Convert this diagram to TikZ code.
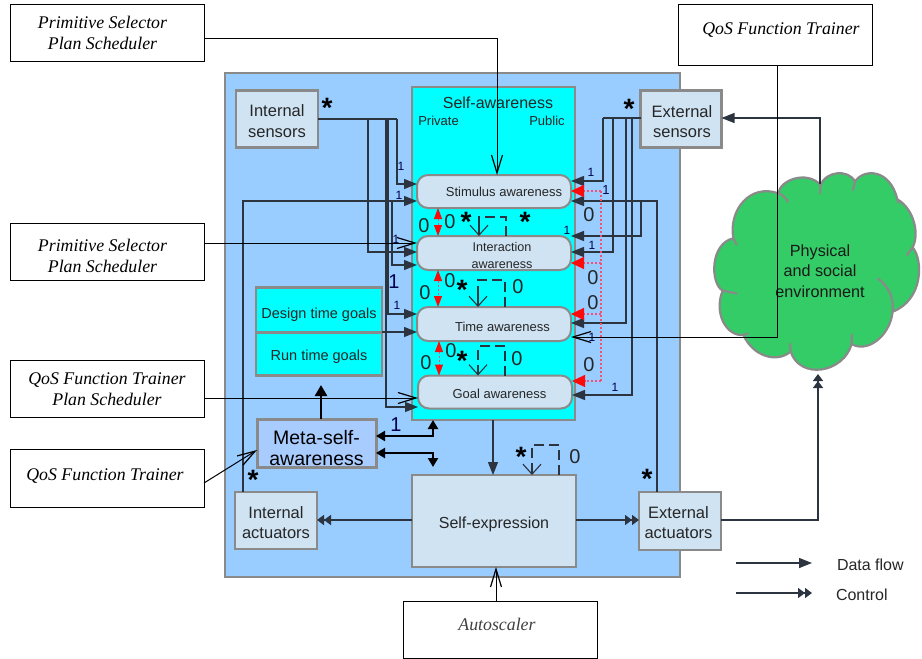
\documentclass[tikz,border=0pt]{standalone}
\usepackage{fontspec}
\setmainfont{Liberation Sans}
\newfontfamily\serifit{Liberation Serif}
\usetikzlibrary{arrows.meta,calc}
\definecolor{panel}{HTML}{99CCFF}
\definecolor{paleb}{HTML}{CFE3F3}
\definecolor{metab}{HTML}{A9CCFF}
\definecolor{edge}{HTML}{8A8A8A}
\definecolor{wirec}{HTML}{2C3440}
\definecolor{cloudg}{HTML}{33CC66}
\definecolor{pcyan}{HTML}{00FFFF}
\definecolor{pred}{HTML}{FF0A0A}
\definecolor{pink}{HTML}{F0507A}
\newcommand{\tp}[1]{\rule{0pt}{#1pt}}
\tikzset{
  px/.style={font=\fontsize{#1}{20.5}\selectfont},
  boxn/.style={draw=edge,line width=2.5pt,fill=paleb,inner sep=0pt,outer sep=0pt,align=center,text=black!85},
  awar/.style={boxn,rounded corners=11pt,line width=2pt,font=\fontsize{13}{17}\selectfont},
  whitebox/.style={draw=black,line width=1pt,fill=white,inner sep=0pt,outer sep=0pt,align=center,minimum width=194pt,
     font=\serifit\itshape\fontsize{17.8}{21}\selectfont},
  wire/.style={draw=wirec,line width=1.4pt},
  thinl/.style={draw=black,line width=1pt},
  da/.style={wire,-{Triangle[length=13pt,width=10pt]}},
  ca/.style={wire,-{Triangle[length=7pt,width=10pt]Triangle[length=7pt,width=10pt]}},
  oa/.style={thinl,-{Straight Barb[length=18pt,width=11pt,line width=1.2pt]}},
  loopl/.style={draw=wirec,line width=1.1pt,dash pattern=on 10pt off 5pt},
  loopt/.style={draw=wirec,line width=1.1pt,-{Straight Barb[length=10pt,width=18pt]}},
  reda/.style={draw=pink,line width=1pt,dash pattern=on 2pt off 2pt,{Triangle[length=11pt,width=8pt,color=pred]}-{Triangle[length=11pt,width=8pt,color=pred]}},
  redd/.style={draw=pink,line width=1.1pt,dash pattern=on 2pt off 2pt,-{Triangle[length=13pt,width=12pt,color=pred]}},
  thick3/.style={draw=black,line width=2.6pt},
  bi/.style={thick3,{Triangle[length=9pt,width=10pt]}-{Triangle[length=9pt,width=10pt]}},
  lab/.style={inner sep=0pt,outer sep=0pt,text=black!85},
  st/.style={inner sep=0pt,outer sep=0pt,font=\bfseries\fontsize{28}{28}\selectfont,text=black},
}
\begin{document}
\begin{tikzpicture}[x=1pt,y=-1pt]
\useasboundingbox (0,0) rectangle (922,659);

% panels
\node[boxn,fill=panel,minimum width=455pt,minimum height=504pt] (panelbox) at (452.5,325) {};
\node[boxn,fill=pcyan,minimum width=163pt,minimum height=333pt] (selfaw) at (493.5,253.5) {};
\node[lab,px=16] (selftitle) at (498,103) {Self-awareness};
\node[lab,px=13] (priv) at (438.5,121) {Private};
\node[lab,px=13] (publ) at (547,121) {Public};

% boxes
\node[boxn,minimum width=82pt,minimum height=57pt,px=16.5] (isens) at (277,119) {\tp{16}Internal\\sensors};
\node[boxn,minimum width=81pt,minimum height=57pt,px=16.5] (esens) at (681,119) {\tp{17.5}\hspace*{2pt}External\\\hspace*{2pt}sensors};
\node[awar,minimum width=154pt,minimum height=33pt] (stim) at (494,191.5) {\tp{11}\hspace*{20pt}Stimulus awareness};
\node[awar,minimum width=154pt,minimum height=34pt,font=\fontsize{12.6}{17}\selectfont] (inter) at (494,253) {\tp{14}\hspace*{16pt}Interaction\\\hspace*{16pt}awareness};
\node[awar,minimum width=154pt,minimum height=34pt] (timea) at (494,324) {\tp{16}\hspace*{17pt}Time awareness};
\node[awar,minimum width=154pt,minimum height=33pt] (goal) at (495,392) {\tp{14}\hspace*{9pt}Goal awareness};
\node[boxn,fill=pcyan,minimum width=126pt,minimum height=45pt,px=14.5] (design) at (319,310) {\tp{20}Design time goals};
\node[boxn,fill=pcyan,minimum width=126pt,minimum height=43pt,px=14.5] (runt) at (319,354) {\tp{16.5}Run time goals};
\node[boxn,fill=metab,line width=3pt,minimum width=119pt,minimum height=48pt,font=\fontsize{19.5}{21}\selectfont,text=black] (meta) at (316.5,443) {\tp{24}Meta-self-\\awareness};
\node[boxn,minimum width=82pt,minimum height=57pt,px=16.5] (iact) at (276,520.5) {\tp{16}Internal\\actuators};
\node[boxn,minimum width=164pt,minimum height=92pt,px=16] (expr) at (494,521) {\tp{19}Self-expression};
\node[boxn,minimum width=82pt,minimum height=58pt,px=16.5] (eact) at (680,521) {\tp{15}\hspace*{-3pt}External\\\hspace*{-3pt}actuators};

% cloud
\begin{scope}[shift={(700,140)},x=.3333pt,y=-.3333pt]
\draw[draw=edge,line width=2.2pt,fill=cloudg]
 (100,295) .. controls (85,210) and (150,130) .. (235,160)
 .. controls (240,120) and (320,90) .. (362,135)
 .. controls (375,95) and (445,85) .. (465,125)
 .. controls (490,85) and (570,85) .. (592,178)
 .. controls (640,205) and (660,280) .. (638,322)
 .. controls (670,360) and (670,480) .. (578,515)
 .. controls (570,590) and (500,640) .. (455,612)
 .. controls (430,700) and (300,720) .. (272,635)
 .. controls (230,670) and (160,650) .. (130,585)
 .. controls (80,590) and (40,520) .. (68,452)
 .. controls (30,430) and (30,310) .. (100,295) -- cycle;
\draw[draw=edge,line width=2.2pt]
 (235,160) .. controls (250,165) and (258,175) .. (265,187)
 (362,135) -- (360,162)
 (465,125) -- (459,152)
 (592,178) -- (596,190)
 (638,322) -- (620,346)
 (578,515) .. controls (582,470) and (565,440) .. (533,415)
 (455,612) -- (455,582)
 (272,635) -- (270,610)
 (130,585) -- (146,580)
 (68,452) -- (112,461)
 (100,295) -- (110,315);
\end{scope}
\node[lab,align=center,font=\fontsize{16.2}{20.5}\selectfont,text=black!90] (cloudtxt) at (820,271) {Physical\\and social\\environment};
\coordinate (cloudtop) at (820,184);
\coordinate (cloudbot) at (818,374);

% white annotation boxes
\node[whitebox,minimum height=57pt] (ps1) at (107,32.5) {Primitive Selector\hspace*{9pt}\\Plan Scheduler\hspace*{9pt}};
\node[whitebox,minimum height=57pt] (ps2) at (107,252) {\tp{20}Primitive Selector\hspace*{9pt}\\Plan Scheduler\hspace*{9pt}};
\node[whitebox,minimum height=57pt] (qp) at (107,389) {QoS Function Trainer\\Plan Scheduler};
\node[whitebox,minimum height=58pt] (qf) at (107,478) {\raisebox{7pt}{QoS Function Trainer}\hspace*{4pt}};
\node[whitebox,minimum height=61pt] (qt) at (775,34.5) {\hspace*{12pt}\raisebox{11pt}{QoS Function Trainer}};
\node[whitebox,minimum height=57pt,text=black!75] (auto) at (500,629.5) {\raisebox{10pt}{Autoscaler}\hspace*{6pt}};

% internal sensor wires
\draw[wire] (isens.east |- 0,119) -- (397,119);
\draw[da] (397,119) -- (397,184) -- (stim.west |- 0,184);
\draw[da] (368,119) -- (368,252) -- (inter.west |- 0,252);
\draw[da] (388,119) -- (388,314) -- (timea.west |- 0,314);
\draw[da] (386,119) -- (386,407) -- (goal.west |- 0,407);
% internal actuator wires
\draw[da] (iact.north -| 243,0) -- (243,201) -- (stim.west |- 0,201);
\draw[da] (392,201) -- (392,265) -- (inter.west |- 0,265);
\draw[da] (design.east |- 0,332) -- (timea.west |- 0,332);
% external sensor wires
\draw[wire] (esens.west |- 0,118) -- (603,118);
\draw[da] (603,118) -- (603,181) -- (stim.east |- 0,181);
\draw[da] (613,118) -- (613,252) -- (inter.east |- 0,252);
\draw[da] (626,118) -- (626,323) -- (timea.east |- 0,323);
\draw[da] (632,118) -- (632,395) -- (goal.east |- 0,395);
% external actuator wires
\draw[da] (eact.north -| 657,0) -- (657,201) -- (stim.east |- 0,201);
\draw[da] (641,201) -- (641,236) -- (inter.east |- 0,236);
% red feedback
\draw[draw=pink,line width=1.1pt,dash pattern=on 2pt off 2pt] (601,191) -- (601,381);
\draw[redd] (601,191) -- (stim.east |- 0,191);
\draw[redd] (601,263) -- (inter.east |- 0,263);
\draw[redd] (601,314) -- (timea.east |- 0,314);
\draw[redd] (601,381) -- (goal.east |- 0,381);
\draw[reda] (stim.south -| 438,0) -- (inter.north -| 438,0);
\draw[reda] (inter.south -| 438,0) -- (timea.north -| 438,0);
\draw[reda] (timea.south -| 439,0) -- (goal.north -| 439,0);

% self loops
\draw[loopl] (inter.north -| 506,0) -- (506,217) -- (479,217) -- (479,226);
\draw[loopt] (479,226) -- (inter.north -| 479,0);
\draw[loopl] (timea.north -| 505,0) -- (505,280) -- (478,280) -- (478,296);
\draw[loopt] (478,296) -- (timea.north -| 478,0);
\draw[loopl] (goal.north -| 505,0) -- (505,346) -- (478,346) -- (478,365);
\draw[loopt] (478,365) -- (goal.north -| 478,0);
\draw[loopl] (expr.north -| 559,0) -- (559,445) -- (532,445) -- (532,464);
\draw[loopt] (532,464) -- (expr.north -| 532,0);

% meta
\draw[thick3,-{Triangle[length=11pt,width=12pt]}] (meta.north -| 321,0) -- (321,385);
\draw[bi] (meta.east |- 0,436) -- (433,436) -- (433,420);
\draw[bi] (meta.east |- 0,453) -- (433,453) -- (433,467);

% main flows
\draw[da] (selfaw.south -| 493,0) -- (expr.north -| 493,0);
\draw[ca] (expr.west |- 0,520) -- (iact.east |- 0,520);
\draw[ca] (expr.east |- 0,520) -- (eact.west |- 0,520);
\draw[ca] (eact.east |- 0,520) -- (818,520) -- (cloudbot);
\draw[da] (cloudtop) -- (820,118) -- (esens.east |- 0,118);

% annotation arrows
\draw[oa] (ps1.east |- 0,38) -- (497,38) -- (stim.north -| 497,0);
\draw[oa] (ps2.east |- 0,243) -- (inter.west |- 0,243);
\draw[oa] (qp.east |- 0,398) -- (goal.west |- 0,398);
\draw[oa] (qf.east |- 0,483) -- (meta.west |- 0,450);
\draw[oa] (qt.south -| 777,0) -- (777,337) -- (timea.east |- 0,337);
\draw[oa] (auto.north -| 496,0) -- (expr.south -| 496,0);

% legend
\coordinate (lg1a) at (736,563); \coordinate (lg1b) at (812,563);
\coordinate (lg2a) at (736,593); \coordinate (lg2b) at (812,593);
\draw[da] (lg1a) -- (lg1b);
\draw[ca] (lg2a) -- (lg2b);
\node[lab,px=16,anchor=west] (lgdata) at (837,565) {Data flow};
\node[lab,px=16,anchor=west] (lgctrl) at (836,595) {Control};

% labels: large zeros
\foreach \x/\y [count=\i] in {424/226,450/222,425/293,450/281,518/287,426/363,451/351,517/359,589/215,593/278,593/303,589/365,575/457}
  \node[lab,font=\fontsize{20}{20}\selectfont] (zero\i) at (\x,\y) {0};
% labels: ones
\foreach \x/\y/\s [count=\i] in {401/166/12,399/195/12,396/239/12,397/305/12,591/172/12,606/190/13,567/230/12,592/245/12,592/337/12,615/387/12,394/282/20,396/425/20}
  \node[lab,font=\fontsize{\s}{\s}\selectfont,text=blue!30!black] (one\i) at (\x,\y) {1};
% stars
\foreach \x/\y [count=\i] in {327/108,629/109,466/222,525/222,462/290,462/361,253/480,647/479,521/457}
  \node[st] (star\i) at (\x,\y) {*};
\end{tikzpicture}
\end{document}
